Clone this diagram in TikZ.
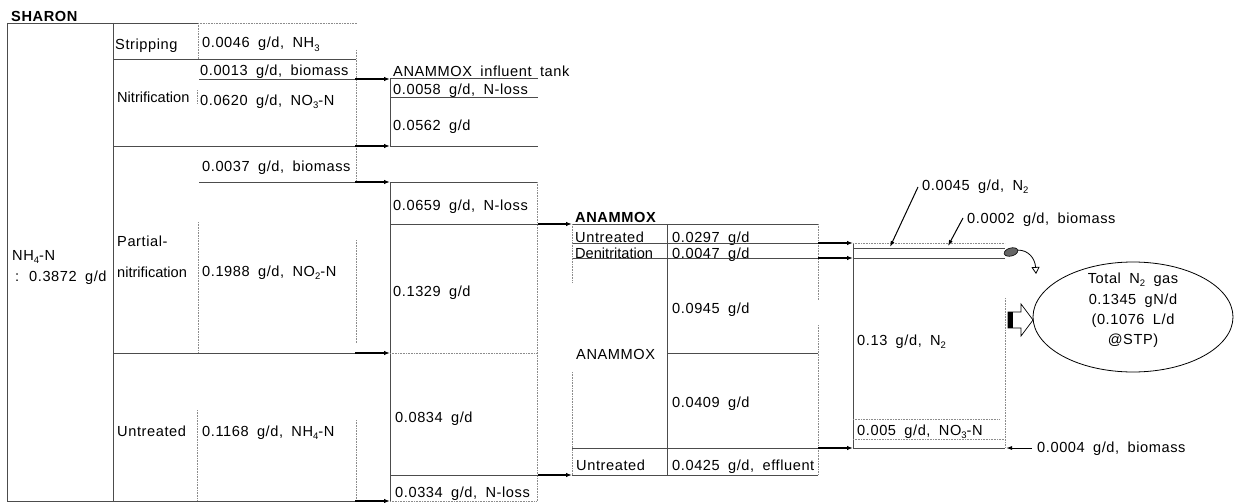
\documentclass[tikz,border=0pt]{standalone}
\usepackage{fontspec}
\setmainfont{Liberation Sans}[WordSpace=1.8, LetterSpace=4]
\newfontfamily\nolsfont{Liberation Sans}[WordSpace=1.8]
\usetikzlibrary{arrows.meta,shapes.geometric}
\newcommand\mysub[1]{\raisebox{-0.45ex}{\fontsize{9.5}{9.5}\selectfont #1}}
\begin{document}
\begin{tikzpicture}[x=1pt,y=-1pt,
  txt/.style={anchor=base west, inner sep=0pt, font=\fontsize{14.6}{17}\selectfont},
  ntxt/.style={txt, font=\nolsfont\fontsize{14.6}{17}\selectfont},
  btxt/.style={txt, font=\fontsize{14.6}{17}\selectfont\bfseries},
  ctxt/.style={anchor=base, inner sep=0pt, font=\fontsize{14.6}{17}\selectfont},
  tl/.style={draw=black!70, line width=0.6pt},
  dl/.style={draw=black!45, line width=0.6pt, densely dotted},
  arr/.style={draw=black, line width=1.3pt, -{Latex[length=6pt,width=4.5pt]}},
  parr/.style={draw=black, line width=1pt, -{Latex[length=6pt,width=4pt]}}]
\useasboundingbox (0,0) rectangle (1234,503);

% ---------------- texts ----------------
\node[btxt] (sharon) at (11,22) {SHARON};
\node[txt] (strip) at (115,49) {Stripping};
\node[txt] (v1) at (202,48) {0.0046 g/d, NH\mysub{3}};
\node[txt] (v2) at (200,76) {0.0013 g/d, biomass};
\node[ntxt] (nitr) at (117,102) {Nitrification};
\node[txt] (v3) at (200,105) {0.0620 g/d, NO\mysub{3}-N};
\node[txt] (v4) at (202,171) {0.0037 g/d, biomass};
\node[txt] (part1) at (117,246) {Partial-};
\node[ntxt] (part2) at (117,277) {nitrification};
\node[txt] (v5) at (202,276) {0.1988 g/d, NO\mysub{2}-N};
\node[txt] (nh4) at (12,260) {NH\mysub{4}-N};
\node[txt] (nh4v) at (15,281) {: 0.3872 g/d};
\node[txt] (untr1) at (117,436) {Untreated};
\node[txt] (v6) at (202,436) {0.1168 g/d, NH\mysub{4}-N};

\node[txt] (tank) at (393,77) {ANAMMOX influent tank};
\node[txt] (t1) at (393,95) {0.0058 g/d, N-loss};
\node[txt] (t2) at (393,130) {0.0562 g/d};
\node[txt] (t3) at (393,210) {0.0659 g/d, N-loss};
\node[txt] (t4) at (393,296) {0.1329 g/d};
\node[txt] (t5) at (395,422) {0.0834 g/d};
\node[txt] (t6) at (395,497) {0.0334 g/d, N-loss};

\node[btxt] (ana) at (575,222) {ANAMMOX};
\node[txt] (a1) at (575,242) {Untreated};
\node[txt] (a1v) at (672,242) {0.0297 g/d};
\node[ntxt] (a2) at (575,258) {Denitritation};
\node[txt] (a2v) at (672,258) {0.0047 g/d};
\node[txt] (a3v) at (672,313) {0.0945 g/d};
\node[txt] (a3) at (576,359) {ANAMMOX};
\node[txt] (a4v) at (672,407) {0.0409 g/d};
\node[txt] (a5) at (576,470) {Untreated};
\node[txt] (a5v) at (672,470) {0.0425 g/d, effluent};

\node[txt] (n2a) at (922,190) {0.0045 g/d, N\mysub{2}};
\node[txt] (bma) at (967,223) {0.0002 g/d, biomass};
\node[txt] (n2b) at (857,345) {0.13 g/d, N\mysub{2}};
\node[txt] (no3) at (857,435) {0.005 g/d, NO\mysub{3}-N};
\node[txt] (bmb) at (1037,452) {0.0004 g/d, biomass};

% ---------------- left table ----------------
\draw[tl] (7,23) -- (7,502);
\draw[tl] (113,23) -- (113,502);
\draw[tl] (7,23) -- (198,23);
\draw[dl] (198,23) -- (357,23);
\draw[dl] (198,23) -- (198,59);
\draw[tl] (113,59) -- (356,59);
\draw[dl] (197,90) -- (197,104);
\draw[dl] (356,50) -- (356,182);
\draw[tl] (199,79) -- (355,79);
\draw[tl] (113,146) -- (355,146);
\draw[tl] (199,182) -- (355,182);
\draw[dl] (198,222) -- (198,353);
\draw[dl] (356,240) -- (356,343);
\draw[tl] (113,353) -- (355,353);
\draw[dl] (197,410) -- (197,501);
\draw[dl] (356,420) -- (356,501);
\draw[tl] (7,501) -- (355,501);

\coordinate (s1) at (355,79);   \coordinate (e1) at (390,79);
\coordinate (s2) at (355,146);  \coordinate (e2) at (390,146);
\coordinate (s3) at (355,182);  \coordinate (e3) at (390,182);
\coordinate (s4) at (355,353);  \coordinate (e4) at (390,353);
\coordinate (s5) at (355,501);  \coordinate (e5) at (390,501);
\draw[arr] (s1) -- (e1);
\draw[arr] (s2) -- (e2);
\draw[arr] (s3) -- (e3);
\draw[arr] (s4) -- (e4);
\draw[arr] (s5) -- (e5);

% ---------------- middle table ----------------
\draw[tl] (e1) -- (e2);
\draw[tl] (e3) -- (e5);
\draw[tl] (390,78) -- (538,78);
\draw[tl] (390,97) -- (538,97);
\draw[tl] (390,146) -- (538,146);
\draw[tl] (390,182) -- (538,182);
\draw[dl] (537,182) -- (537,501);
\draw[tl] (390,224) -- (538,224);
\draw[dl] (390,353) -- (537,353);
\draw[tl] (390,475) -- (538,475);
\draw[dl] (390,501) -- (537,501);

\coordinate (s6) at (538,224);  \coordinate (e6) at (572,224);
\coordinate (s7) at (538,475);  \coordinate (e7) at (572,475);
\draw[arr] (s6) -- (e6);
\draw[arr] (s7) -- (e7);

% ---------------- ANAMMOX table ----------------
\draw[tl] (572,224) -- (818,224);
\draw[tl] (572,243) -- (818,243);
\draw[tl] (572,258) -- (818,258);
\draw[dl] (572,224) -- (572,283);
\draw[dl] (572,372) -- (572,475);
\draw[tl] (667,224) -- (667,475);
\draw[dl] (818,224) -- (818,300);
\draw[dl] (818,325) -- (818,475);
\draw[tl] (667,353) -- (818,353);
\draw[tl] (572,448) -- (818,448);
\draw[tl] (572,475) -- (818,475);

\coordinate (s8) at (818,243);  \coordinate (e8) at (853,243);
\coordinate (s9) at (818,258);  \coordinate (e9) at (853,258);
\coordinate (s10) at (818,448); \coordinate (e10) at (853,448);
\draw[arr] (s8) -- (e8);
\draw[arr] (s9) -- (e9);
\draw[arr] (s10) -- (e10);

% ---------------- N2 table ----------------
\draw[tl] (e8) -- (e10);
\draw[dl] (853,243) -- (1005,243);
\draw[tl] (853,248) -- (1005,248);
\draw[tl] (853,258) -- (1005,258);
\draw[dl] (1005,298) -- (1005,448);
\draw[dl] (853,419) -- (1000,419);
\draw[dl] (853,439) -- (1005,439);
\draw[tl] (853,448) -- (1005,448);

\coordinate (p1) at (918,187);  \coordinate (q1) at (890,247);
\coordinate (p2) at (963,218);  \coordinate (q2) at (948,246);
\coordinate (p3) at (1032,448); \coordinate (q3) at (1006,448);
\draw[parr] (p1) -- (q1);
\draw[parr] (p2) -- (q2);
\draw[parr] (p3) -- (q3);

% blob and curved arrow
\node[ellipse, draw=black, fill=black!60, line width=0.6pt, minimum width=14pt, minimum height=8pt, inner sep=0pt, rotate=15] (blob) at (1011,252) {};
\draw[line width=0.8pt, -{Triangle[open,length=7pt,width=8pt]}] (blob.east) .. controls (1028,250) and (1035,258) .. (1036,274);

% block arrow
\draw[line width=0.7pt, fill=white] (1008,312) -- (1021,312) -- (1021,304) -- (1033,320) -- (1021,336) -- (1021,328) -- (1008,328) -- cycle;
\fill[black] (1008,312) rectangle (1013,328);

% total N2 ellipse
\node[ellipse, draw=black, line width=0.8pt, minimum width=200pt, minimum height=110pt, inner sep=0pt] (tot) at (1133,317) {};
\node[ctxt] (tot1) at (1133,283) {Total N\mysub{2} gas};
\node[ctxt] (tot2) at (1133,304) {0.1345 gN/d};
\node[ctxt] (tot3) at (1133,324) {(0.1076 L/d};
\node[ctxt] (tot4) at (1133,344) {@STP)};
\end{tikzpicture}
\end{document}
